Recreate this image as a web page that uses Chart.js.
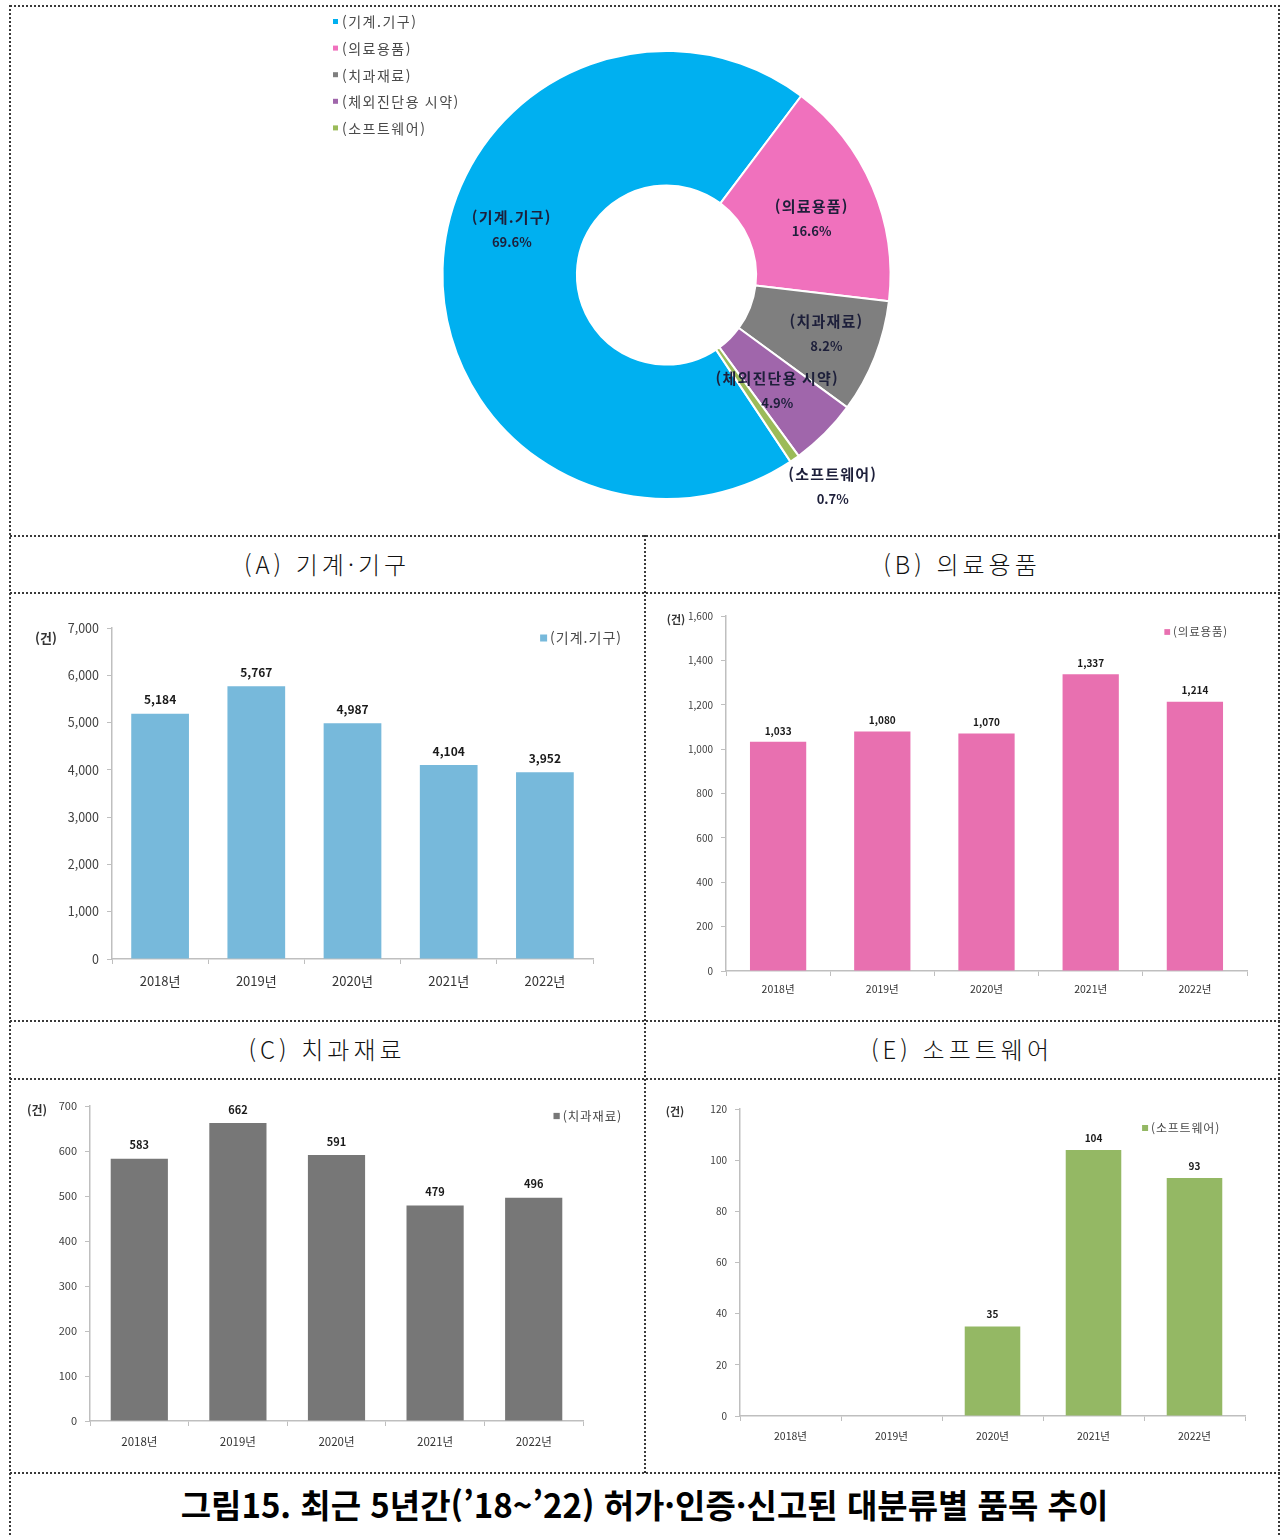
<!DOCTYPE html>
<html lang="ko">
<head>
<meta charset="utf-8">
<title>그림15. 최근 5년간 허가·인증·신고된 대분류별 품목 추이</title>
<script src="https://cdn.jsdelivr.net/npm/chart.js@4.4.0/dist/chart.umd.min.js"></script>
<style>
    html, body { margin: 0; padding: 0; background: #fff; }
    body { width: 1281px; height: 1535px; position: relative; overflow: hidden;
        font-family: "Noto Sans CJK KR", "Noto Sans", sans-serif; }
    .hl { position: absolute; height: 2px;
        background: repeating-linear-gradient(90deg, #3a3a3a 0 2px, transparent 2px 4px); }
    .vl { position: absolute; width: 2px;
        background: repeating-linear-gradient(180deg, #3a3a3a 0 2px, transparent 2px 4px); }
    .box { position: absolute; }
    .head { position: absolute; height: 56px; line-height: 56px; text-align: center;
        font-size: 24px; font-weight: 300; letter-spacing: 4px; color: #111; }
    .caption { position: absolute; left: 10px; width: 1269px; top: 1474px; height: 60px;
        line-height: 60px; text-align: center; font-size: 33px; font-weight: 700; color: #000; }
</style>
</head>
<body>
<div class="hl" style="left:10px;width:1270px;top:5px"></div>
<div class="hl" style="left:10px;width:1270px;top:535px"></div>
<div class="hl" style="left:10px;width:1270px;top:592px"></div>
<div class="hl" style="left:10px;width:1270px;top:1020px"></div>
<div class="hl" style="left:10px;width:1270px;top:1078px"></div>
<div class="hl" style="left:10px;width:1270px;top:1472px"></div>
<div class="vl" style="left:9px;top:5px;height:1530px"></div>
<div class="vl" style="left:1278px;top:5px;height:1530px"></div>
<div class="vl" style="left:644px;top:535px;height:938px"></div>

<div class="box" style="left:10px;top:7px;width:1268px;height:528px"><canvas id="donut"></canvas></div>

<div class="head" style="left:10px;width:634px;top:536px">(A) 기계·기구</div>
<div class="head" style="left:646px;width:632px;top:536px">(B) 의료용품</div>
<div class="box" style="left:10px;top:594px;width:634px;height:426px"><canvas id="chartA"></canvas></div>
<div class="box" style="left:646px;top:594px;width:632px;height:426px"><canvas id="chartB"></canvas></div>

<div class="head" style="left:10px;width:634px;top:1021px">(C) 치과재료</div>
<div class="head" style="left:646px;width:632px;top:1021px">(E) 소프트웨어</div>
<div class="box" style="left:10px;top:1080px;width:634px;height:392px"><canvas id="chartC"></canvas></div>
<div class="box" style="left:646px;top:1080px;width:632px;height:392px"><canvas id="chartE"></canvas></div>

<div class="caption">그림15. 최근 5년간(’18~’22) 허가·인증·신고된 대분류별 품목 추이</div>

<script>
const FONT = '"Noto Sans CJK KR", "Noto Sans", sans-serif';

// donut data
const shareLabels = ["(기계.기구)", "(의료용품)", "(치과재료)", "(체외진단용 시약)", "(소프트웨어)"];
const shareValues = [69.6, 16.6, 8.2, 4.9, 0.7];
const shareColors = ["#00b0f0", "#f071bd", "#7f7f7f", "#a066ab", "#9bbb59"];

// yearly counts
const years = ["2018년", "2019년", "2020년", "2021년", "2022년"];
const machineCounts = [5184, 5767, 4987, 4104, 3952];
const suppliesCounts = [1033, 1080, 1070, 1337, 1214];
const dentalCounts = [583, 662, 591, 479, 496];
const softwareCounts = [null, null, 35, 104, 93];

Chart.defaults.font.family = FONT;
Chart.defaults.color = "#404040";
Chart.defaults.animation = false;

const donutDecor = {
    id: "donutDecor",
    afterDraw(chart, args, opts) {
        const ctx = chart.ctx;
        const meta = chart.getDatasetMeta(0);
        const values = chart.data.datasets[0].data;
        const colors = chart.data.datasets[0].backgroundColor;
        ctx.save();

        // legend, top left
        ctx.font = `14px ${FONT}`;
        ctx.letterSpacing = "1.5px";
        ctx.textBaseline = "middle";
        ctx.textAlign = "left";
        chart.data.labels.forEach((label, i) => {
            const y = opts.legendY + i * opts.legendGap;
            ctx.fillStyle = colors[i];
            ctx.fillRect(opts.legendX, y - 3, 5, 5);
            ctx.fillStyle = "#4a4a4a";
            ctx.fillText(label, opts.legendX + 9, y);
        });

        // slice labels
        ctx.textAlign = "center";
        ctx.fillStyle = "#1d1f3a";
        meta.data.forEach((arc, i) => {
            const mid = (arc.startAngle + arc.endAngle) / 2;
            const small = values[i] < 2;
            const r = small ? arc.outerRadius + 44 : (arc.innerRadius + arc.outerRadius) / 2;
            const nudge = opts.nudge[i] || [0, 0];
            const x = arc.x + Math.cos(mid) * r + nudge[0];
            const y = arc.y + Math.sin(mid) * r + nudge[1];
            ctx.font = `bold 15px ${FONT}`;
            ctx.letterSpacing = "1.2px";
            ctx.fillText(chart.data.labels[i], x, y - 12);
            ctx.font = `bold 13px ${FONT}`;
            ctx.letterSpacing = "0px";
            ctx.fillText(values[i].toFixed(1) + "%", x, y + 13);
        });
        ctx.restore();
    },
};

new Chart(document.getElementById("donut"), {
    type: "doughnut",
    data: {
        labels: shareLabels,
        datasets: [{
            data: shareValues,
            backgroundColor: shareColors,
            borderColor: "#ffffff",
            borderWidth: 2,
        }],
    },
    options: {
        responsive: true,
        maintainAspectRatio: false,
        rotation: 146.4,
        cutout: "40%",
        layout: { padding: { top: 43, bottom: 35, left: 45, right: 0 } },
        plugins: {
            legend: { display: false },
            tooltip: { enabled: false },
            donutDecor: {
                legendX: 323, legendY: 15, legendGap: 26.6,
                nudge: [[2, -41], [1, 5], [14, 1], [0, 4], [13, -9]],
            },
        },
    },
    plugins: [donutDecor],
});

const barDecor = {
    id: "barDecor",
    afterDatasetsDraw(chart, args, opts) {
        const ctx = chart.ctx;
        const meta = chart.getDatasetMeta(0);
        const ds = chart.data.datasets[0];
        ctx.save();

        // value labels
        ctx.font = `bold ${opts.valueSize}px ${FONT}`;
        ctx.fillStyle = "#1a1a1a";
        ctx.textAlign = "center";
        ctx.textBaseline = "bottom";
        meta.data.forEach((bar, i) => {
            const v = ds.data[i];
            if (v == null) return;
            ctx.fillText(v.toLocaleString("en-US"), bar.x, bar.y - opts.valueGap);
        });

        // unit
        ctx.font = `bold ${opts.unitSize}px ${FONT}`;
        ctx.fillStyle = "#333";
        ctx.textAlign = "center";
        ctx.textBaseline = "middle";
        ctx.fillText("(건)", opts.unitX, opts.unitY);

        // legend
        ctx.font = `${opts.legendSize}px ${FONT}`;
        ctx.letterSpacing = opts.legendSpacing + "px";
        ctx.textAlign = "right";
        ctx.fillStyle = "#4a4a4a";
        ctx.fillText(ds.label, opts.legendRight, opts.legendY);
        const w = ctx.measureText(ds.label).width;
        ctx.fillStyle = ds.backgroundColor;
        const s = opts.legendSize * 0.5;
        ctx.fillRect(opts.legendRight - w - s - 3, opts.legendY - s / 2, s, s);
        ctx.restore();
    },
};

function barChart(id, label, values, color, cfg) {
    return new Chart(document.getElementById(id), {
        type: "bar",
        data: {
            labels: years,
            datasets: [{
                label,
                data: values,
                backgroundColor: color,
                barPercentage: cfg.barPct,
                categoryPercentage: 1,
            }],
        },
        options: {
            responsive: true,
            maintainAspectRatio: false,
            layout: { padding: { top: cfg.top, right: cfg.right, left: 0, bottom: 0 } },
            plugins: {
                legend: { display: false },
                tooltip: { enabled: false },
                barDecor: cfg.decor,
            },
            scales: {
                x: {
                    afterFit(scale) { scale.height = cfg.xHeight; },
                    border: { color: "#bfbfbf", width: 1.5 },
                    grid: { display: true, drawOnChartArea: false, offset: true, tickLength: 5, color: "#bfbfbf" },
                    ticks: { font: { size: cfg.xFont }, color: "#333", padding: cfg.xPad },
                },
                y: {
                    min: 0,
                    max: cfg.max,
                    afterFit(scale) { scale.width = cfg.yWidth; },
                    border: { color: "#bfbfbf", width: 1.5 },
                    grid: { display: true, drawOnChartArea: false, tickLength: 5, color: "#bfbfbf" },
                    ticks: { stepSize: cfg.step, font: { size: cfg.yFont }, color: "#404040", padding: 8 },
                },
            },
        },
        plugins: [barDecor],
    });
}

barChart("chartA", "(기계.기구)", machineCounts, "#77b9db", {
    barPct: 0.6, top: 34, right: 51, yWidth: 102, xHeight: 61, max: 7000, step: 1000,
    xFont: 13, yFont: 12.5, xPad: 9,
    decor: { valueSize: 12, valueGap: 8, unitSize: 13, unitX: 36, unitY: 44, legendSize: 14, legendSpacing: 1, legendRight: 612, legendY: 44 },
});

barChart("chartB", "(의료용품)", suppliesCounts, "#e870b0", {
    barPct: 0.54, top: 22, right: 31, yWidth: 80, xHeight: 49, max: 1600, step: 200,
    xFont: 10.5, yFont: 10, xPad: 7,
    decor: { valueSize: 10, valueGap: 6, unitSize: 11, unitX: 30, unitY: 26, legendSize: 11.5, legendSpacing: 0.8, legendRight: 582, legendY: 38 },
});

barChart("chartC", "(치과재료)", dentalCounts, "#777777", {
    barPct: 0.58, top: 26, right: 61, yWidth: 80, xHeight: 51, max: 700, step: 100,
    xFont: 11.5, yFont: 11, xPad: 9,
    decor: { valueSize: 11, valueGap: 8, unitSize: 12, unitX: 27, unitY: 30, legendSize: 12.5, legendSpacing: 0.8, legendRight: 612, legendY: 36 },
});

barChart("chartE", "(소프트웨어)", softwareCounts, "#94b864", {
    barPct: 0.55, top: 29, right: 33, yWidth: 94, xHeight: 56, max: 120, step: 20,
    xFont: 10.5, yFont: 10, xPad: 9,
    decor: { valueSize: 10, valueGap: 7, unitSize: 11, unitX: 29, unitY: 32, legendSize: 12, legendSpacing: 0.8, legendRight: 574, legendY: 48 },
});
</script>
</body>
</html>
